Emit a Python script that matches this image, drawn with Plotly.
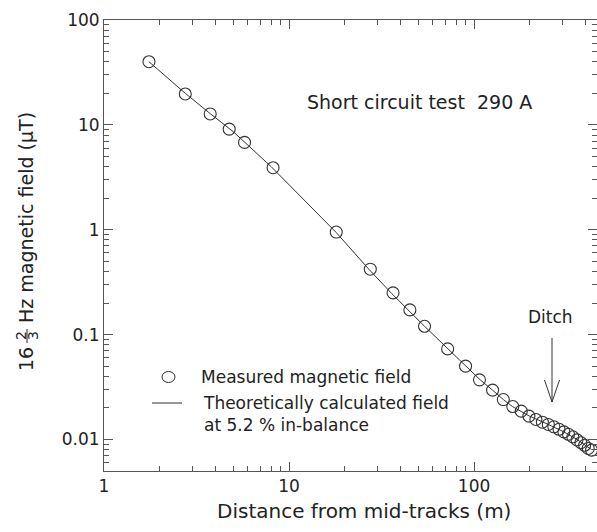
import plotly.graph_objects as go
import math

# ---------------- data ----------------
measured_distance_m = [1.75, 2.75, 3.75, 4.75, 5.75, 8.2, 18, 27.5, 36.5, 45, 54, 72, 90,
                       107, 126, 144, 162, 180, 198, 216, 234, 252, 270, 288, 306, 324,
                       342, 360, 378, 396, 414, 432]
measured_field_uT = [40, 19.7, 12.7, 9.1, 6.8, 3.9, 0.95, 0.42, 0.25, 0.172, 0.12, 0.073,
                     0.050, 0.037, 0.0295, 0.024, 0.0206, 0.0186, 0.0167, 0.0155, 0.0146,
                     0.0139, 0.0132, 0.0125, 0.0118, 0.0112, 0.0106, 0.0099, 0.0093,
                     0.0088, 0.0082, 0.0079]

theory_distance_m = [1.75, 2.75, 3.75, 5, 8, 12, 18, 27, 36, 54, 72, 90, 108, 126, 144,
                     162, 198, 252, 306, 360, 432]
theory_field_uT = [40, 20, 12.8, 8.6, 4.0, 1.95, 0.94, 0.42, 0.245, 0.12, 0.073, 0.05,
                   0.037, 0.0295, 0.024, 0.0205, 0.0168, 0.0139, 0.0118, 0.0100, 0.0080]

x_range = [1, 462]
y_range = [0.005, 100]

title_text = "Short circuit test\u00a0 290 A"
legend_measured = "Measured magnetic field"
legend_theory = "Theoretically calculated field<br>at 5.2 % in-balance"
ditch_text = "Ditch"
x_title = "Distance from mid-tracks (m)"

# ---------------- layout geometry (pixels) ----------------
W, H = 597, 532
PL, PR, PT, PB = 104, 597, 20, 471
FONT = "DejaVu Sans"
INK = "#222222"
AX = "#555555"
MARK = "#333333"


def px(x):
    return (x - PL) / (PR - PL)


def py(y):
    return (PB - y) / (PB - PT)


fig = go.Figure()
fig.add_trace(go.Scatter(x=theory_distance_m, y=theory_field_uT, mode="lines",
                         line=dict(color=MARK, width=1), showlegend=False,
                         hoverinfo="skip"))
fig.add_trace(go.Scatter(x=measured_distance_m, y=measured_field_uT, mode="markers",
                         marker=dict(symbol="circle-open", size=12, color=MARK,
                                     line=dict(color=MARK, width=1.1)),
                         showlegend=False))

axis_common = dict(type="log", showgrid=False, zeroline=False, showline=True,
                   linecolor=AX, linewidth=1, mirror="ticks", ticks="inside",
                   ticklen=9, tickcolor=AX, tickwidth=1, dtick=1,
                   tickfont=dict(family=FONT, size=17, color=INK),
                   minor=dict(ticks="inside", ticklen=5, tickcolor=AX, tickwidth=1,
                              showgrid=False))

fig.update_xaxes(range=[math.log10(x_range[0]), math.log10(x_range[1])], **axis_common)
fig.update_yaxes(range=[math.log10(y_range[0]), math.log10(y_range[1])],
                 exponentformat="none", **axis_common)

ann = []
# title text inside the plot
ann.append(dict(text=title_text, x=px(419), y=py(102), font=dict(size=19)))
# x axis title
ann.append(dict(text=x_title, x=px(364), y=py(511), font=dict(size=20)))
# y axis title pieces (rotated)
ann.append(dict(text=" Hz magnetic field (μT)", x=px(26), y=py(221), textangle=-90,
                font=dict(size=19)))
ann.append(dict(text="16", x=px(26), y=py(359), textangle=-90, font=dict(size=19)))
ann.append(dict(text="2", x=px(21), y=py(336), textangle=-90, font=dict(size=14)))
ann.append(dict(text="3", x=px(33), y=py(336), textangle=-90, font=dict(size=14)))
# legend texts
ann.append(dict(text=legend_measured, x=px(199), y=py(377), xanchor="left",
                font=dict(size=17)))
ann.append(dict(text=legend_theory, x=px(201), y=py(414), xanchor="left", align="left",
                font=dict(size=17)))
# ditch
ann.append(dict(text=ditch_text, x=px(550), y=py(317), font=dict(size=17)))

for a in ann:
    a.setdefault("xanchor", "center")
    a.setdefault("yanchor", "middle")
    a["xref"] = "paper"
    a["yref"] = "paper"
    a["showarrow"] = False
    a["font"] = dict(family=FONT, color=INK, **a["font"])
    fig.add_annotation(**a)

shapes = []
line_style = dict(color=MARK, width=1)
# fraction bar
shapes.append(dict(type="line", x0=px(27), x1=px(27), y0=py(329), y1=py(343),
                   line=dict(color=INK, width=1)))
# legend symbols
shapes.append(dict(type="circle", x0=px(162), x1=px(175), y0=py(371.5), y1=py(382.5),
                   line=line_style))
shapes.append(dict(type="line", x0=px(152), x1=px(182), y0=py(403), y1=py(403),
                   line=line_style))
# ditch arrow
shapes.append(dict(type="line", x0=px(552), x1=px(552), y0=py(338), y1=py(402),
                   line=line_style))
shapes.append(dict(type="line", x0=px(544.5), x1=px(552), y0=py(380), y1=py(402),
                   line=line_style))
shapes.append(dict(type="line", x0=px(559.5), x1=px(552), y0=py(380), y1=py(402),
                   line=line_style))
for s in shapes:
    s["xref"] = "paper"
    s["yref"] = "paper"
    fig.add_shape(**s)

fig.update_layout(width=W, height=H, margin=dict(l=PL, r=W - PR, t=PT, b=H - PB),
                  plot_bgcolor="white", paper_bgcolor="white", showlegend=False,
                  font=dict(family=FONT, color=INK))

fig.write_html("out.html")
